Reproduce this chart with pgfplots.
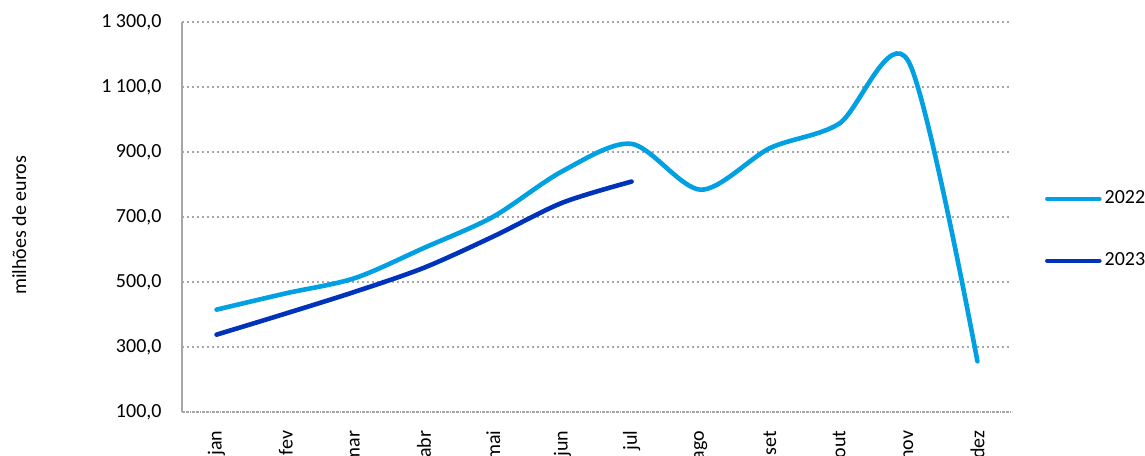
\documentclass[border=0pt]{standalone}
\usepackage{fontspec}
\setmainfont{Carlito}
\usepackage{pgfplots}
\pgfplotsset{compat=1.18}
\definecolor{c22}{RGB}{0,160,227}
\definecolor{c23}{RGB}{0,51,187}
\definecolor{gridgray}{RGB}{166,166,166}
\begin{document}
\begin{tikzpicture}
\useasboundingbox (-91pt,-21.5pt) rectangle (481.5pt,206pt);
\begin{axis}[
  at={(0pt,0pt)}, anchor=south west,
  scale only axis, width=415pt, height=195pt,
  xmin=-0.5, xmax=11.5, ymin=100, ymax=1300,
  xtick={0,...,11},
  xticklabels={jan,fev,mar,abr,mai,jun,jul,ago,set,out,nov,dez},
  ytick={100,300,...,1300},
  axis lines*=left,
  major tick length=0pt,
  tick style={draw=none},
  x axis line style={draw=gridgray, line width=1pt, dash pattern=on 0.6pt off 0.4pt},
  y axis line style={draw=gridgray, line width=1pt},
  ymajorgrids,
  grid style={draw=gridgray, line width=1pt, dash pattern=on 1pt off 1.5pt},
  font=\fontsize{10}{12}\selectfont,
  xticklabel style={rotate=90, anchor=east},
  xticklabel shift=5.8pt,
  yticklabel shift=6.7pt,
  yticklabel style={/pgf/number format/.cd, fixed, fixed zerofill, precision=1, use comma, 1000 sep={\ }, assume math mode=true},
  ylabel={milhões de euros},
  ylabel style={at={(axis description cs:-0.196,0.479)}, anchor=center},
  legend entries={2022,2023},
  legend cell align=left,
  legend image code/.code={\draw[#1, line width=2.3pt, line cap=round] (0pt,0pt) -- (26pt,0pt);},
  legend style={at={(axis description cs:1.0398,0.467)}, anchor=west, draw=none, fill=none, inner sep=0pt, outer sep=0pt, row sep=20pt, column sep=0pt, nodes={inner sep=1.5pt, anchor=west}, font=\fontsize{10}{12}\selectfont},
]
\addplot[c22, line width=2.3pt, line cap=round, smooth] coordinates {(0,415)(1,465)(2,512)(3,605)(4,701)(5,841)(6,925)(7,784)(8,912)(9,987)(10,1180)(11,256)};
\addplot[c23, line width=2.3pt, line cap=round, smooth] coordinates {(0,338)(1,403)(2,470)(3,544)(4,640)(5,744)(6,809)};
\end{axis}
\end{tikzpicture}
\end{document}
